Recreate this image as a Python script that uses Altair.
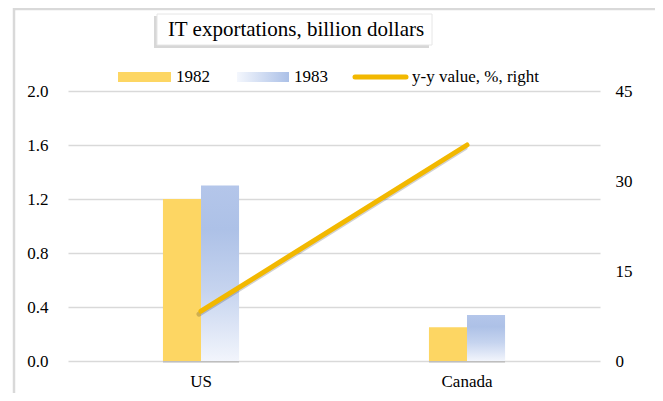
import altair as alt
import pandas as pd

categories = ["US", "Canada"]
years = ["1982", "1983"]
v1982 = [1.2, 0.25]
v1983 = [1.3, 0.34]
yy_value = [8.3, 36.0]
left_ticks = [0.0, 0.4, 0.8, 1.2, 1.6, 2.0]
right_ticks = [0, 15, 30, 45]

FONT = "Liberation Serif"
YELLOW = "#FDD663"
LINE = "#F2B800"
GRID = "#D9D9D9"

df82 = pd.DataFrame({"category": categories, "year": "1982", "value": v1982})
df83 = pd.DataFrame({"category": categories, "year": "1983", "value": v1983})
dfline = pd.DataFrame({"category": categories, "yy": yy_value})
one = pd.DataFrame({"a": [0]})

x_enc = alt.X(
    "category:N", sort=categories,
    scale=alt.Scale(paddingInner=0.714, paddingOuter=0.357),
    axis=alt.Axis(title=None, labelAngle=0, domain=False, ticks=False,
                  labelFont=FONT, labelFontSize=17, labelColor="#000",
                  labelPadding=12),
)
xo_enc = alt.XOffset("year:N", scale=alt.Scale(domain=years, paddingInner=0, paddingOuter=0))
y_enc = alt.Y(
    "value:Q", scale=alt.Scale(domain=[0, 2]),
    axis=alt.Axis(title=None, values=left_ticks, format=".1f", domain=False,
                  ticks=False, labelFont=FONT, labelFontSize=17, labelColor="#000",
                  labelPadding=20, grid=True, gridColor=GRID, gridWidth=1.5),
)

grad_bar = alt.Gradient(
    gradient="linear",
    stops=[alt.GradientStop(color="#F2F5FC", offset=0),
           alt.GradientStop(color="#C6D4EF", offset=0.4),
           alt.GradientStop(color="#ADC1E7", offset=0.75),
           alt.GradientStop(color="#B4C6EA", offset=1)],
    x1=0, y1=1, x2=0, y2=0,
)
grad_leg = alt.Gradient(
    gradient="linear",
    stops=[alt.GradientStop(color="#F4F7FD", offset=0),
           alt.GradientStop(color="#ABC0E7", offset=1)],
    x1=0, y1=0, x2=1, y2=0,
)

frame = alt.Chart(one).mark_rect(fill=None, stroke=GRID, strokeWidth=2.5).encode(
    x=alt.value(-54), x2=alt.value(590), y=alt.value(-82), y2=alt.value(330))
tshadow = alt.Chart(one).mark_rect(fill="#BDBDBD", opacity=0.6).encode(
    x=alt.value(86), x2=alt.value(361), y=alt.value(-75), y2=alt.value(-43))
tbox = alt.Chart(one).mark_rect(fill="white", stroke="#E6E6E6", strokeWidth=1).encode(
    x=alt.value(89), x2=alt.value(364), y=alt.value(-77), y2=alt.value(-46))
ttext = alt.Chart(one).mark_text(font=FONT, fontSize=21, align="center", baseline="middle", color="#000").encode(
    x=alt.value(228), y=alt.value(-61), text=alt.value("IT exportations, billion dollars"))

leg1 = alt.Chart(one).mark_rect(fill=YELLOW).encode(
    x=alt.value(50), x2=alt.value(103), y=alt.value(-19), y2=alt.value(-9))
leg1t = alt.Chart(one).mark_text(font=FONT, fontSize=17, align="left", baseline="middle", color="#000").encode(
    x=alt.value(108), y=alt.value(-14), text=alt.value("1982"))
leg2 = alt.Chart(one).mark_rect(fill=grad_leg).encode(
    x=alt.value(169), x2=alt.value(221), y=alt.value(-19), y2=alt.value(-9))
leg2t = alt.Chart(one).mark_text(font=FONT, fontSize=17, align="left", baseline="middle", color="#000").encode(
    x=alt.value(226), y=alt.value(-14), text=alt.value("1983"))
leg3 = alt.Chart(one).mark_rule(stroke=LINE, strokeWidth=5, strokeCap="round").encode(
    x=alt.value(287), x2=alt.value(338), y=alt.value(-14))
leg3t = alt.Chart(one).mark_text(font=FONT, fontSize=17, align="left", baseline="middle", color="#000").encode(
    x=alt.value(344), y=alt.value(-14), text=alt.value("y-y value, %, right"))

shadow82 = alt.Chart(df82).mark_bar(color="#000", opacity=0.12, xOffset=-2, yOffset=2).encode(
    x=x_enc, xOffset=xo_enc, y=y_enc)
shadow83 = alt.Chart(df83).mark_bar(color="#000", opacity=0.12, xOffset=-2, yOffset=2).encode(
    x=x_enc, xOffset=xo_enc, y=y_enc)
bar82 = alt.Chart(df82).mark_bar(fill=YELLOW).encode(x=x_enc, xOffset=xo_enc, y=y_enc)
bar83 = alt.Chart(df83).mark_bar(fill=grad_bar).encode(x=x_enc, xOffset=xo_enc, y=y_enc)

left = alt.layer(frame, tshadow, tbox, ttext, leg1, leg1t, leg2, leg2t, leg3, leg3t,
                 shadow82, shadow83, bar82, bar83)

y2_enc = alt.Y(
    "yy:Q", scale=alt.Scale(domain=[0, 45]),
    axis=alt.Axis(title=None, orient="right", values=right_ticks, domain=False,
                  ticks=False, grid=False, labelFont=FONT, labelFontSize=17,
                  labelColor="#000", labelPadding=15),
)
line_shadow = alt.Chart(dfline).mark_line(stroke="#000", opacity=0.18, strokeWidth=5,
                                          strokeCap="round", xOffset=-2, yOffset=3).encode(
    x=alt.X("category:N", sort=categories), y=y2_enc)
line = alt.Chart(dfline).mark_line(stroke=LINE, strokeWidth=5, strokeCap="round").encode(
    x=alt.X("category:N", sort=categories), y=y2_enc)
right = alt.layer(line_shadow, line)

chart = alt.layer(left, right).resolve_scale(y="independent").properties(
    width=532, height=270,
    padding={"left": 60, "top": 83, "right": 55, "bottom": 32},
    autosize=alt.AutoSizeParams(type="none"),
    background="white",
).configure_view(stroke=None)

chart.save("out.html", embed_options={"renderer": "svg", "actions": False})
